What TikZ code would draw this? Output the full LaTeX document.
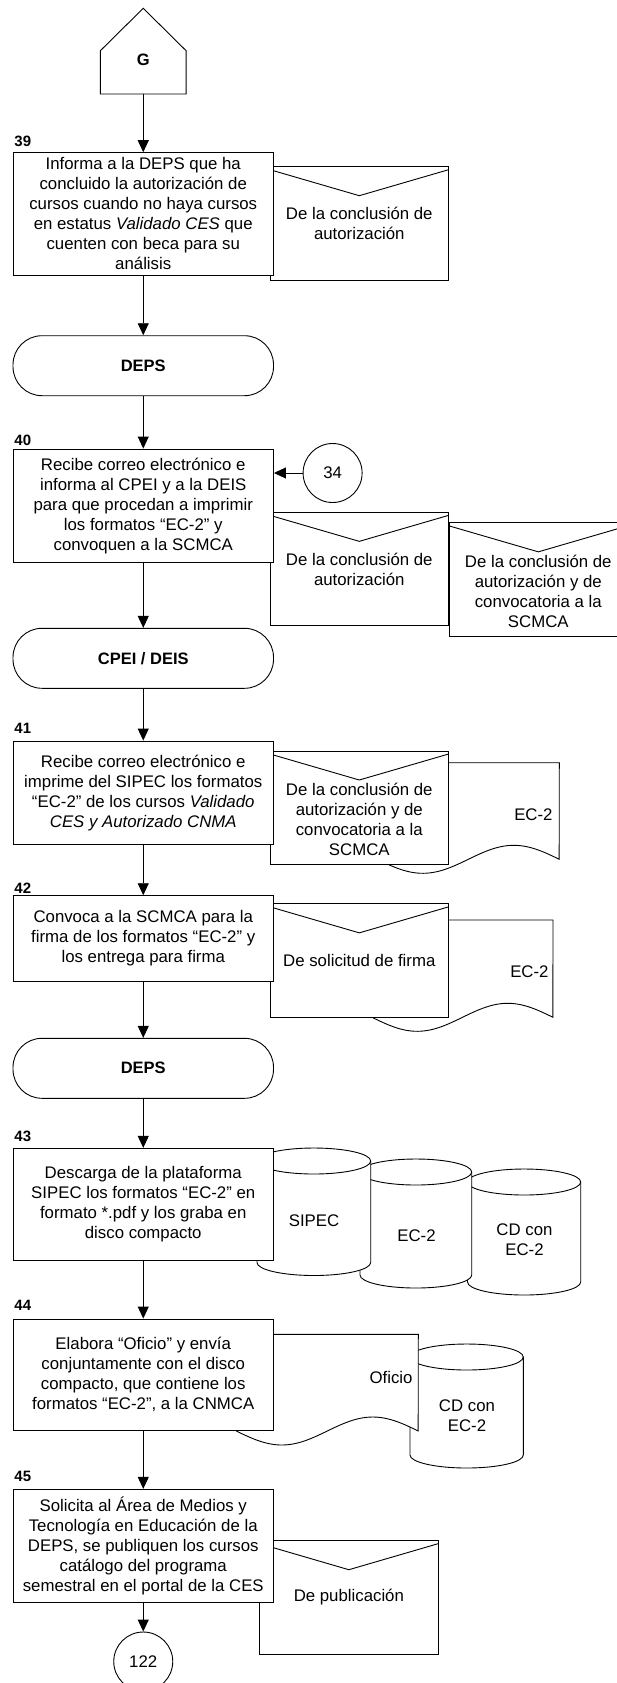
\documentclass[tikz,border=0pt]{standalone}
\usepackage{fontspec}
\setmainfont{Liberation Sans}
\usetikzlibrary{arrows.meta,calc}

% document symbol: left x, right x, top y, y of the wavy bottom
\newcommand\docshape[4]{%
  \filldraw[fill=white] plot[domain=0:1,samples=60,smooth]
    ({#1+(#2-#1)*\x},{#4+14*sin(360*\x)}) -- (#2,#3) -- (#1,#3) -- cycle;}
% storage cylinder: left x, right x, half width, top centre y, bottom centre y
\newcommand\cylshape[5]{%
  \filldraw[fill=white] (#1,#4) arc[start angle=180,end angle=0,x radius=#3pt,y radius=13pt]
    -- (#2,#5) arc[start angle=0,end angle=-180,x radius=#3pt,y radius=13pt] -- cycle;
  \draw (#1,#4) arc[start angle=180,end angle=360,x radius=#3pt,y radius=13pt];}

\begin{document}
\begin{tikzpicture}[x=1pt,y=-1pt,line width=0.9pt,
  bodytext/.style={font=\fontsize{16.8}{20}\selectfont, align=center, inner sep=0pt},
  stepbox/.style={bodytext, draw, fill=white, minimum width=260.5pt},
  term/.style={bodytext, draw, fill=white, rounded corners=29pt, minimum width=260.5pt,
    minimum height=60pt, font=\fontsize{16.5}{20}\selectfont\bfseries},
  envelope/.style={bodytext, draw, fill=white, minimum width=178.6pt, minimum height=113.3pt,
    path picture={\draw ([yshift=-3pt]path picture bounding box.north west)
      -- ([yshift=-29pt]path picture bounding box.north)
      -- ([yshift=-3pt]path picture bounding box.north east);}},
  conn/.style={bodytext, draw, fill=white, circle, minimum size=59pt},
  num/.style={font=\fontsize{15}{18}\selectfont\bfseries, inner sep=0pt, anchor=base west},
  flow/.style={-{Triangle[length=12pt,width=11pt]}}]

\useasboundingbox (0,0) rectangle (617,1683);
\clip (0,0) rectangle (617,1683);
\fill[white] (0,0) rectangle (617,1683);

% off-page connector G
\filldraw[fill=white] (100.4,94) -- (100.4,50.7) -- (143.25,8.3) -- (186.1,50.7) -- (186.1,94) -- cycle;
\node[bodytext, font=\fontsize{16.5}{20}\selectfont\bfseries] (g) at (143.25,60) {G};
\coordinate (gbot) at (143.25,94);

% step 39
\node[envelope] (e39) at (359.3,223.35) {De la conclusión de\\autorización};
\node[stepbox, minimum height=122.3pt] (b39) at (143.25,213.85)
  {Informa a la DEPS que ha\\concluido la autorización de\\cursos cuando no haya cursos\\en estatus \textit{Validado CES} que\\cuenten con beca para su\\análisis};
\node[num] (n39) at (14,146.7) {39};

\node[term] (t1) at (143.25,365.7) {DEPS};

% step 40
\node[envelope] (e40b) at (538.3,579.5) {};
\node[bodytext] (e40bt) at ([yshift=-12pt]e40b.center) {De la conclusión de\\autorización y de\\convocatoria a la\\SCMCA};
\node[envelope] (e40a) at (359.3,569) {De la conclusión de\\autorización};
\node[stepbox, minimum height=113.3pt] (b40) at (143.25,505.65)
  {Recibe correo electrónico e\\informa al CPEI y a la DEIS\\para que procedan a imprimir\\los formatos “EC-2” y\\convoquen a la SCMCA};
\node[num] (n40) at (14,445) {40};
\node[conn] (c34) at (332.6,473) {34};

\node[term] (t2) at (143.25,658.3) {CPEI / DEIS};

% step 41
\docshape{377.3}{559.3}{762.7}{859.3}
\node[bodytext, anchor=east] (d41) at (553,815) {EC-2};
\node[envelope] (e41) at (359.3,807.65) {};
\node[bodytext] (e41t) at ([yshift=-12pt]e41.center) {De la conclusión de\\autorización y de\\convocatoria a la\\SCMCA};
\node[stepbox, minimum height=103.3pt] (b41) at (143.25,792.65)
  {Recibe correo electrónico e\\imprime del SIPEC los formatos\\“EC-2” de los cursos \textit{Validado}\\\textit{CES y Autorizado CNMA}};
\node[num] (n41) at (14,733.3) {41};

% step 42
\docshape{372}{553}{920}{1017.3}
\node[bodytext, anchor=east] (d42) at (549,972) {EC-2};
\node[envelope] (e42) at (359.3,960.5) {De solicitud de firma};
\node[stepbox, minimum height=85.3pt] (b42) at (143.25,938.35)
  {Convoca a la SCMCA para la\\firma de los formatos “EC-2” y\\los entrega para firma};
\node[num] (n42) at (14,893.3) {42};

\node[term] (t3) at (143.25,1068.3) {DEPS};

% step 43
\cylshape{467.5}{580.7}{56.6}{1182}{1282}
\node[bodytext] (s43c) at (524.5,1239.5) {CD con\\EC-2};
\cylshape{360}{471.7}{55.85}{1172}{1275}
\node[bodytext] (s43b) at (416.5,1235.5) {EC-2};
\cylshape{257}{370.7}{56.85}{1161}{1262.5}
\node[bodytext] (s43a) at (314,1220.5) {SIPEC};
\node[stepbox, minimum height=111.7pt] (b43) at (143.25,1204.15)
  {Descarga de la plataforma\\SIPEC los formatos “EC-2” en\\formato *.pdf y los graba en\\disco compacto};
\node[num] (n43) at (14,1141.7) {43};

% step 44
\cylshape{410}{523.3}{56.65}{1357}{1455}
\node[bodytext] (s44) at (467,1415.7) {CD con\\EC-2};
\docshape{236.3}{418.3}{1334.3}{1431}
\node[bodytext, anchor=east] (d44) at (413,1377) {Oficio};
\node[stepbox, minimum height=111pt] (b44) at (143.25,1374.5)
  {Elabora “Oficio” y envía\\conjuntamente con el disco\\compacto, que contiene los\\formatos “EC-2”, a la CNMCA};
\node[num] (n44) at (14,1310) {44};

% step 45
\node[envelope, minimum width=178.3pt] (e45) at (348.85,1597.35) {De publicación};
\node[stepbox, minimum height=113.4pt] (b45) at (143.25,1546)
  {Solicita al Área de Medios y\\Tecnología en Educación de la\\DEPS, se publiquen los cursos\\catálogo del programa\\semestral en el portal de la CES};
\node[num] (n45) at (14,1481.7) {45};
\node[conn] (c122) at (143.25,1661.5) {122};

% connectors
\draw[flow] (gbot) -- (b39.north);
\draw[flow] (b39.south) -- (t1.north);
\draw[flow] (t1.south) -- (b40.north);
\draw[flow] (c34.west) -- (c34.west -| b40.east);
\draw[flow] (b40.south) -- (t2.north);
\draw[flow] (t2.south) -- (b41.north);
\draw[flow] (b41.south) -- (b42.north);
\draw[flow] (b42.south) -- (t3.north);
\draw[flow] (t3.south) -- (b43.north);
\draw[flow] (b43.south) -- (b44.north);
\draw[flow] (b44.south) -- (b45.north);
\draw[flow] (b45.south) -- (c122.north);
\end{tikzpicture}
\end{document}
